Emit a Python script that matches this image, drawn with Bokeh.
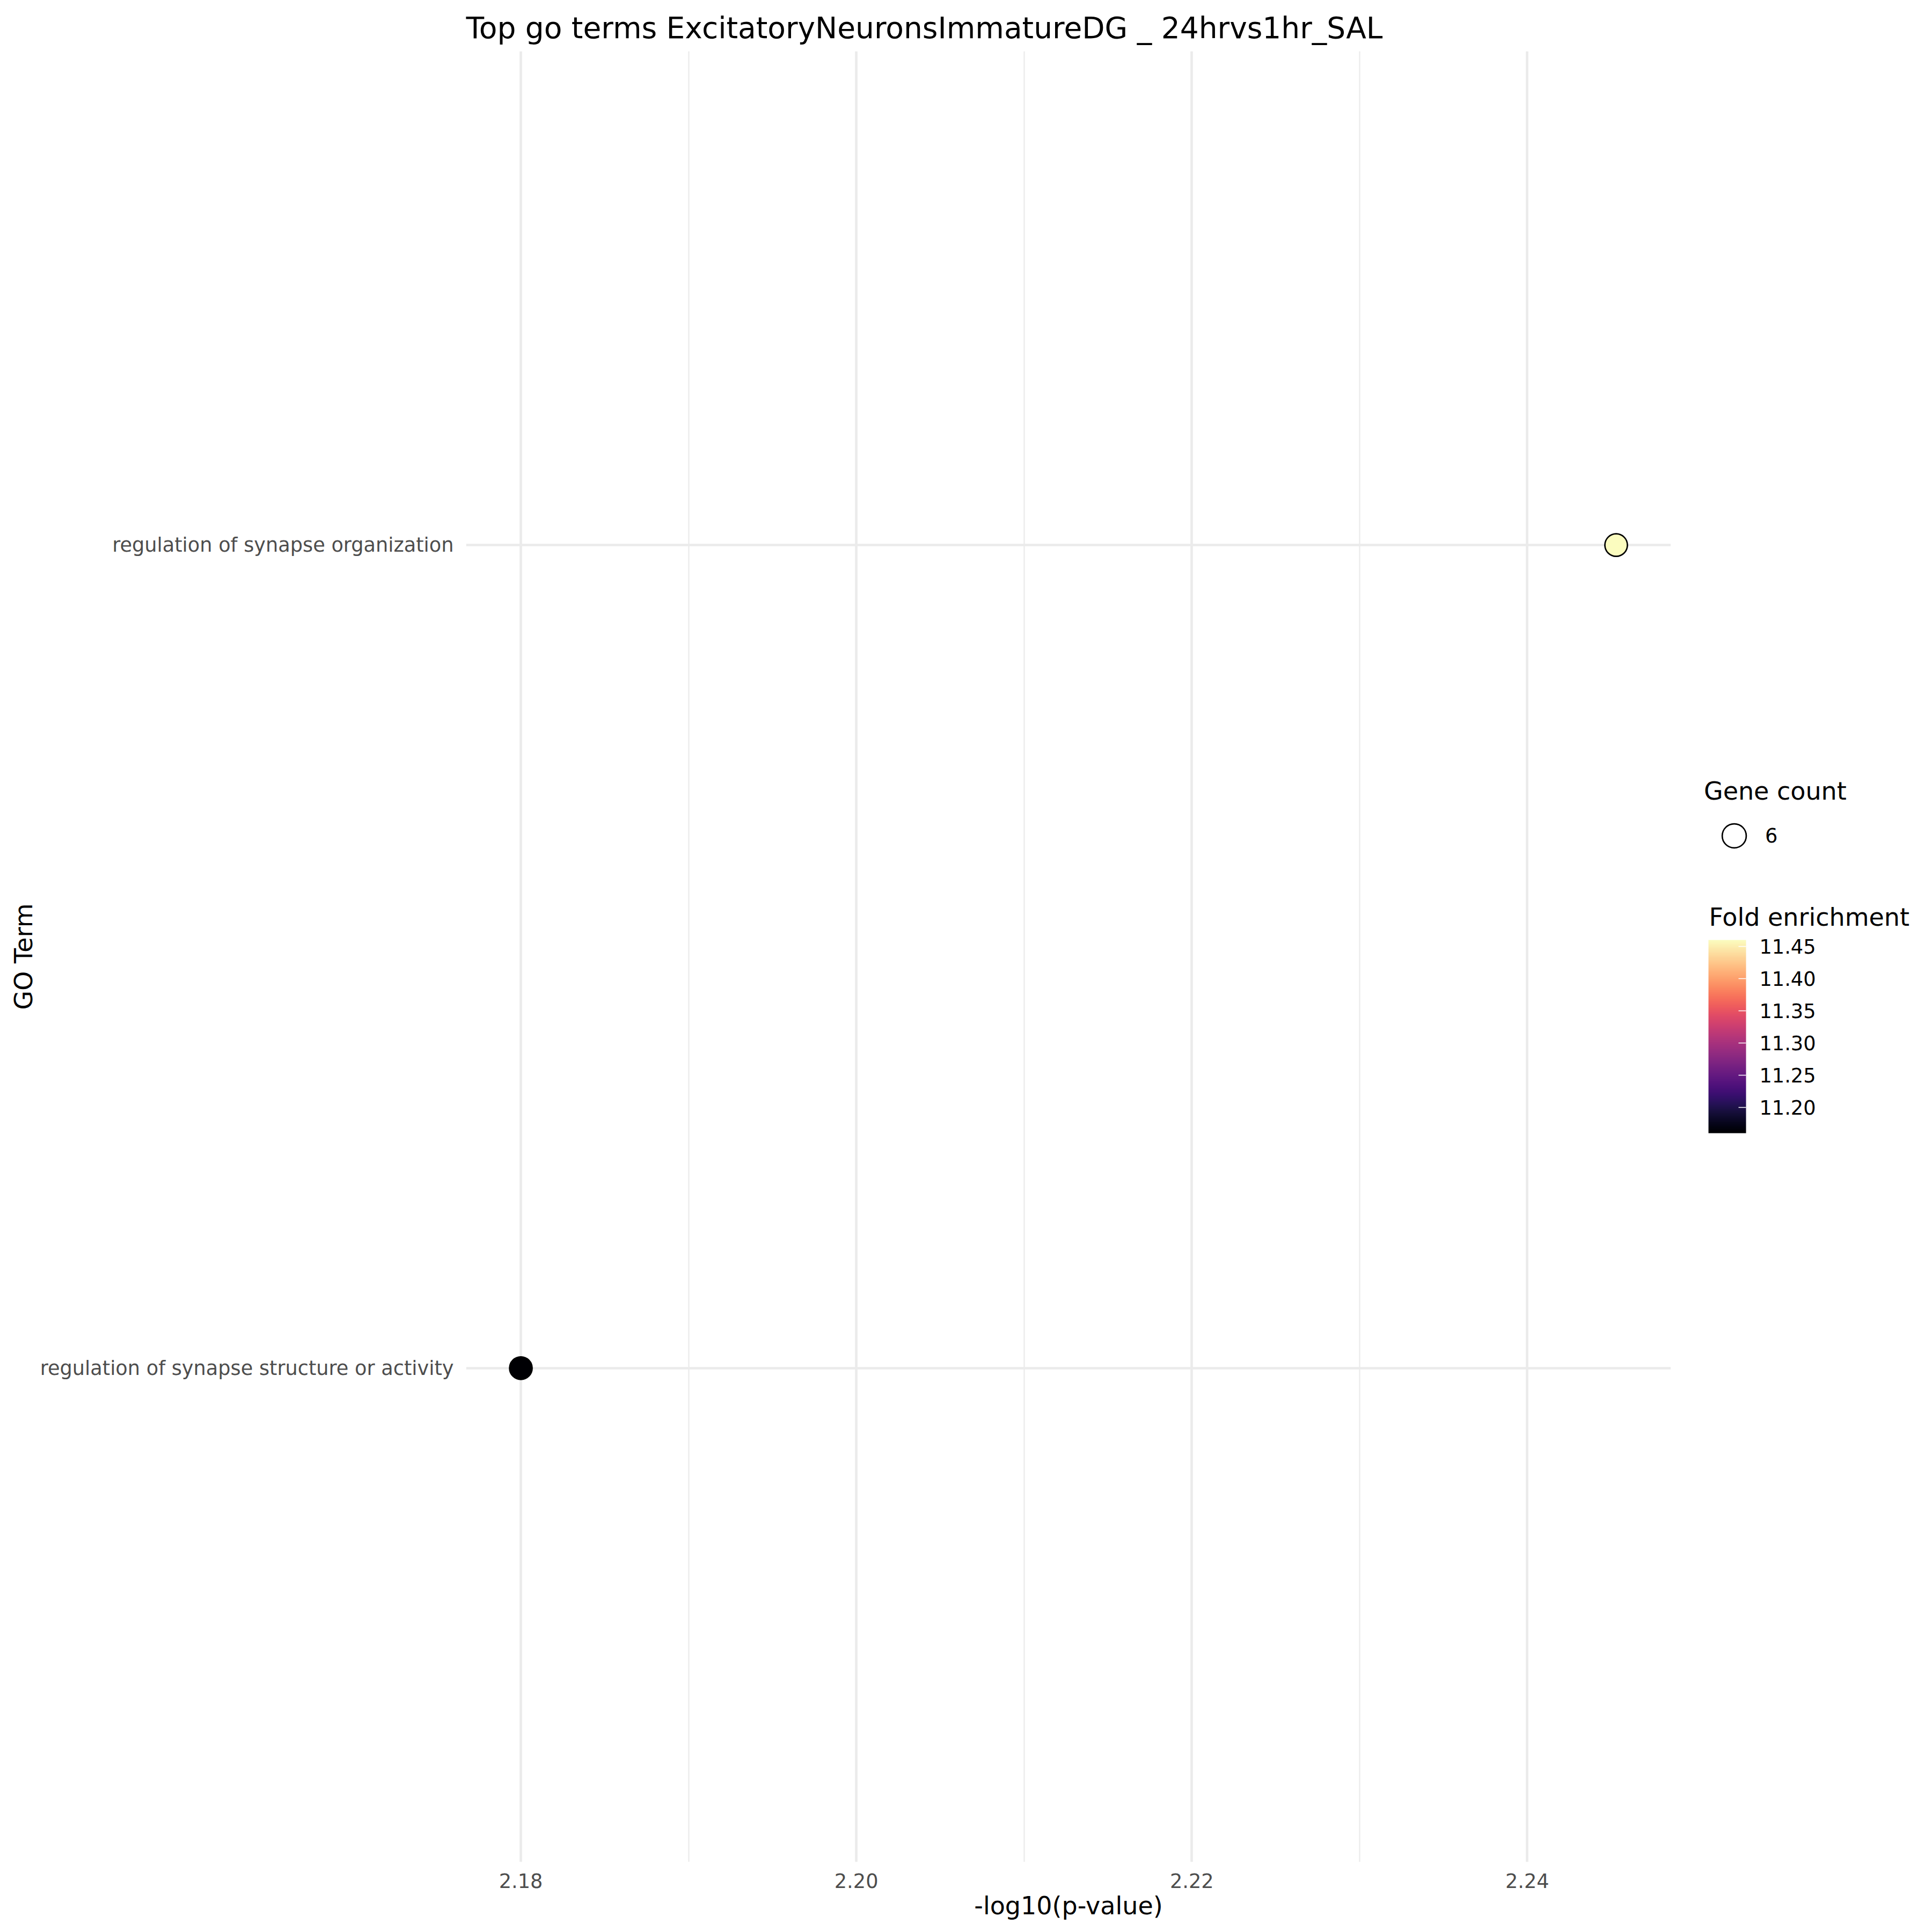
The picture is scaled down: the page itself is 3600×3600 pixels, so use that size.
from bokeh.plotting import figure
from bokeh.models import (Range1d, FactorRange, FixedTicker, NumeralTickFormatter,
                          LinearColorMapper, ColorBar, Legend, LegendItem, ColumnDataSource, Label)
from bokeh.palettes import Magma256
from bokeh.layouts import row
from bokeh.embed import file_html
from bokeh.resources import INLINE

# ---------------- data ----------------
title_text = "Top go terms  ExcitatoryNeuronsImmatureDG _ 24hrvs1hr_SAL"
go_terms = ["regulation of synapse organization",
            "regulation of synapse structure or activity"]
neg_log10_p = [2.2453, 2.1800]
fold_enrichment = [11.46, 11.16]
gene_count = [6, 6]
x_major_ticks = [2.18, 2.20, 2.22, 2.24]
x_minor_ticks = [2.19, 2.21, 2.23]
fe_ticks = [11.20, 11.25, 11.30, 11.35, 11.40, 11.45]
count_levels = [6]

FONT = "DejaVu Sans"
GRID = "#EBEBEB"

xmin, xmax = min(neg_log10_p), max(neg_log10_p)
pad = 0.05 * (xmax - xmin)
factors = list(reversed(go_terms))  # bottom to top

src = ColumnDataSource(dict(term=go_terms, x=neg_log10_p, fe=fold_enrichment, n=gene_count))
mapper = LinearColorMapper(palette=Magma256, low=min(fold_enrichment), high=max(fold_enrichment))

p = figure(width=3113, height=3600,
           x_range=Range1d(xmin - pad, xmax + pad),
           y_range=FactorRange(factors=factors, range_padding=0.1, range_padding_units="absolute"),
           output_backend="svg", toolbar_location=None,
           min_border_left=868, min_border_right=0, min_border_top=95, min_border_bottom=131,
           outline_line_color=None, title=title_text)

p.title.text_font = FONT
p.title.text_font_size = "55px"
p.title.text_font_style = "normal"
p.title.text_color = "black"
p.title.align = "left"
p.title.offset = 0
p.title.standoff = 24

ticker = FixedTicker(ticks=x_major_ticks, minor_ticks=x_minor_ticks)
p.xaxis.ticker = ticker
p.xgrid.ticker = ticker
p.xaxis.formatter = NumeralTickFormatter(format="0.00")

p.xgrid.grid_line_color = GRID
p.xgrid.grid_line_width = 4.7
p.xgrid.minor_grid_line_color = GRID
p.xgrid.minor_grid_line_width = 2.3
p.ygrid.grid_line_color = GRID
p.ygrid.grid_line_width = 4.7

for ax in (p.xaxis[0], p.yaxis[0]):
    ax.axis_line_color = None
    ax.major_tick_line_color = None
    ax.minor_tick_line_color = None
    ax.major_tick_in = 0
    ax.major_tick_out = 0
    ax.major_label_text_font = FONT
    ax.major_label_text_font_size = "36.7px"
    ax.major_label_text_color = "#4D4D4D"
    ax.axis_label_text_font = FONT
    ax.axis_label_text_font_size = "46px"
    ax.axis_label_text_font_style = "normal"
    ax.axis_label_text_color = "black"

p.xaxis.axis_label = "-log10(p-value)"
p.yaxis.axis_label = "GO Term"
p.xaxis.major_label_standoff = 17
p.xaxis.axis_label_standoff = 3
p.yaxis.major_label_standoff = 23
p.yaxis.axis_label_standoff = 1

p.scatter(x="x", y="term", source=src, size=42,
          fill_color={"field": "fe", "transform": mapper},
          line_color="black", line_width=2.7)

# ---------------- legend panel ----------------
q = figure(width=487, height=3600, x_range=Range1d(0, 1), y_range=Range1d(0, 1),
           output_backend="svg", toolbar_location=None, min_border=0,
           outline_line_color=None, x_axis_location=None, y_axis_location=None)
q.grid.visible = False

dummy = q.scatter(x=[-5], y=[-5], size=45, fill_color="white",
                  line_color="black", line_width=2.7)

legend = Legend(items=[LegendItem(label=str(c), renderers=[dummy]) for c in count_levels],
                title="Gene count", location=(62, 1856),
                padding=0, margin=0, spacing=0,
                glyph_width=112, glyph_height=112, label_standoff=2,
                border_line_color=None, background_fill_alpha=0,
                title_text_font=FONT, title_text_font_size="46px",
                title_text_font_style="normal", title_text_color="black", title_standoff=0,
                label_text_font=FONT, label_text_font_size="36.7px", label_text_color="black")
q.add_layout(legend)

cb = ColorBar(color_mapper=mapper, ticker=FixedTicker(ticks=fe_ticks),
              formatter=NumeralTickFormatter(format="0.00"),
              width=70, height=360, location=(70, 1358), padding=0, margin=0,
              major_label_text_font=FONT, major_label_text_font_size="36.7px",
              major_label_text_color="black",
              label_standoff=25, major_tick_line_color="white", major_tick_in=14,
              major_tick_line_width=1.5, minor_tick_line_color=None,
              bar_line_color=None, border_line_color=None, background_fill_color=None)
q.add_layout(cb)

cb_title = Label(x=71, y=1761, x_units="screen", y_units="screen", text="Fold enrichment",
                 text_font=FONT, text_font_size="46px", text_color="black",
                 text_baseline="alphabetic", text_align="left")
q.add_layout(cb_title)

layout = row(p, q)
open("out.html", "w").write(file_html(layout, INLINE))
